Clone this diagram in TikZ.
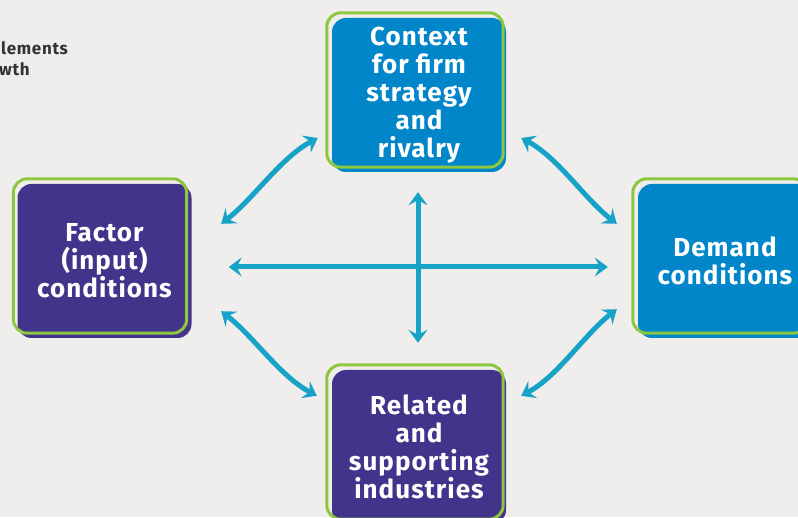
\documentclass[tikz,border=0pt]{standalone}
\usepackage{fontspec}
\setmainfont{Fira Sans}[LetterSpace=4]
\usetikzlibrary{arrows.meta}
\definecolor{backdrop}{RGB}{239,238,236}
\definecolor{demand}{RGB}{0,134,201}
\definecolor{factor}{RGB}{67,52,139}
\definecolor{outline}{RGB}{141,198,63}
\definecolor{link}{RGB}{23,162,200}
\definecolor{note}{RGB}{51,51,51}
\tikzstyle{box}=[rectangle, rounded corners=14pt, minimum width=174pt, minimum height=154pt, inner sep=0pt,
  text=white, align=center, font=\fontsize{26}{28}\selectfont\bfseries]
\tikzstyle{frame}=[draw=outline, line width=3pt, rounded corners=14pt]
\tikzset{linkarrow/.style={link, line width=5pt,
  {Stealth[length=13pt,width=19pt,inset=5pt]}-{Stealth[length=13pt,width=19pt,inset=5pt]}}}
\tikzstyle{heading}=[anchor=base west, inner sep=0pt, text=note, font=\fontsize{17}{21}\selectfont\bfseries]

\begin{document}
\begin{tikzpicture}[x=1pt,y=1pt]
  \fill[backdrop] (0,0) rectangle (798,517);
  \useasboundingbox (0,0) rectangle (798,517);

  %% the four corners
  \node[box, fill=demand] (context) at (419,422) {Context\\for firm\\strategy\\and\\rivalry};
  \node[box, fill=factor] (factor) at (104.5,256) {Factor\\(input)\\conditions};
  \node[box, fill=demand] (demand) at (725,256) {Demand\\conditions};
  \node[box, fill=factor] (related) at (419,70) {Related\\and\\supporting\\industries};

  \draw[frame] ([shift={(-5,5)}]context.south west) rectangle ([shift={(-3,5)}]context.north east);
  \draw[frame] ([shift={(-4,5)}]factor.south west) rectangle ([shift={(-5,5)}]factor.north east);
  \draw[frame] ([shift={(-5,5)}]demand.south west) rectangle ([shift={(-5,5)}]demand.north east);
  \draw[frame] ([shift={(-5,5)}]related.south west) rectangle ([shift={(-3,5)}]related.north east);

  %% straight links
  \draw[linkarrow] ([shift={(37,-6)}]factor.east) -- ([shift={(-30,-6)}]demand.west);
  \draw[linkarrow] ([shift={(-1,-20)}]context.south) -- ([shift={(-1,27)}]related.north);

  %% curved links
  \draw[linkarrow] ([shift={(29.5,-40)}]factor.north east) .. controls +(38:42) and +(208:42) .. ([shift={(-14,-43)}]context.west);
  \draw[linkarrow] ([shift={(15,-43)}]context.east) .. controls +(-28:42) and +(142:42) .. ([shift={(-21,-40)}]demand.north west);
  \draw[linkarrow] ([shift={(29.5,27)}]factor.south east) .. controls +(-38:42) and +(152:42) .. ([shift={(-15,-26)}]related.north west);
  \draw[linkarrow] ([shift={(-21,29)}]demand.south west) .. controls +(218:42) and +(28:42) .. ([shift={(15,-26)}]related.north east);

  %% cut-off heading
  \node[heading] (head1) at (1,462) {lements};
  \node[heading] (head2) at (-1,441) {wth};
\end{tikzpicture}
\end{document}
